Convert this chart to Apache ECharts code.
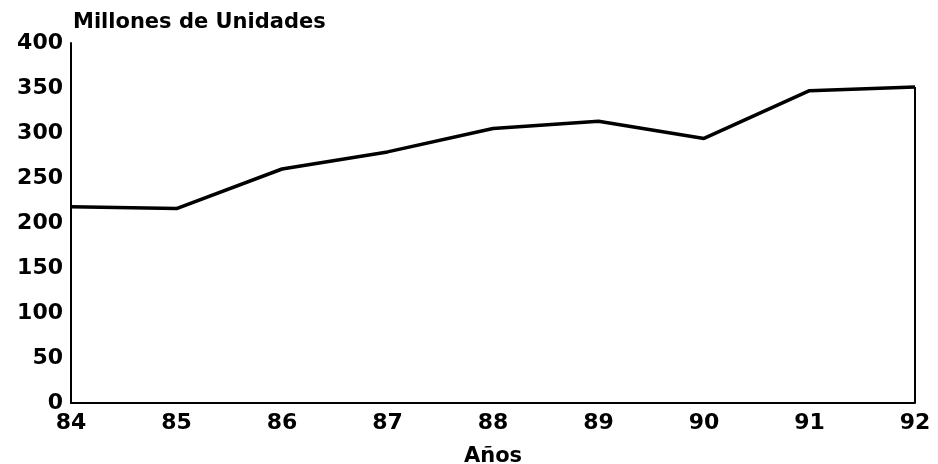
<!DOCTYPE html>
<html>
<head>
<meta charset="utf-8">
<script src="https://cdn.jsdelivr.net/npm/echarts@6/dist/echarts.min.js"></script>
<style>html,body{margin:0;padding:0;background:#fff}#c{width:938px;height:464px}</style>
</head>
<body>
<div id="c"></div>
<script>
const years = ['84','85','86','87','88','89','90','91','92'];
const unidades = [218, 216, 260, 279, 305, 313, 294, 347, 351];
const yTicks = [0, 50, 100, 150, 200, 250, 300, 350, 400];
const yTitle = 'Millones de Unidades';
const xTitle = 'Años';

const font = 'DejaVu Sans';
const chart = echarts.init(document.getElementById('c'));
chart.setOption({
  backgroundColor: '#fff',
  animation: false,
  title: {
    text: yTitle, left: 68, top: 7,
    textStyle: { fontFamily: font, fontWeight: 'bold', fontSize: 21, color: '#000' }
  },
  grid: { left: 71, right: 23, top: 43, bottom: 61, containLabel: false, outerBoundsMode: 'none' },
  xAxis: {
    type: 'category', data: years, boundaryGap: false,
    name: xTitle, nameLocation: 'middle', nameGap: 43,
    nameTextStyle: { fontFamily: font, fontWeight: 'bold', fontSize: 21, color: '#000' },
    axisLine: { lineStyle: { color: '#000', width: 2 } },
    axisTick: { show: false },
    axisLabel: { fontFamily: font, fontWeight: 'bold', fontSize: 22, color: '#000', margin: 9 },
    splitLine: { show: false }
  },
  yAxis: {
    type: 'value', min: yTicks[0], max: yTicks[yTicks.length - 1], interval: 50,
    axisLine: { show: true, lineStyle: { color: '#000', width: 2 } },
    axisTick: { show: false },
    axisLabel: { fontFamily: font, fontWeight: 'bold', fontSize: 22, color: '#000', margin: 8 },
    splitLine: { show: false }
  },
  series: [{
    type: 'line', data: unidades, symbol: 'none',
    lineStyle: { color: '#000', width: 3.5 },
    markLine: {
      silent: true, symbol: 'none', label: { show: false },
      lineStyle: { color: '#000', width: 2, type: 'solid' },
      data: [[{ coord: [years[years.length - 1], 0] }, { coord: [years[years.length - 1], unidades[unidades.length - 1]] }]]
    }
  }]
});
</script>
</body>
</html>
